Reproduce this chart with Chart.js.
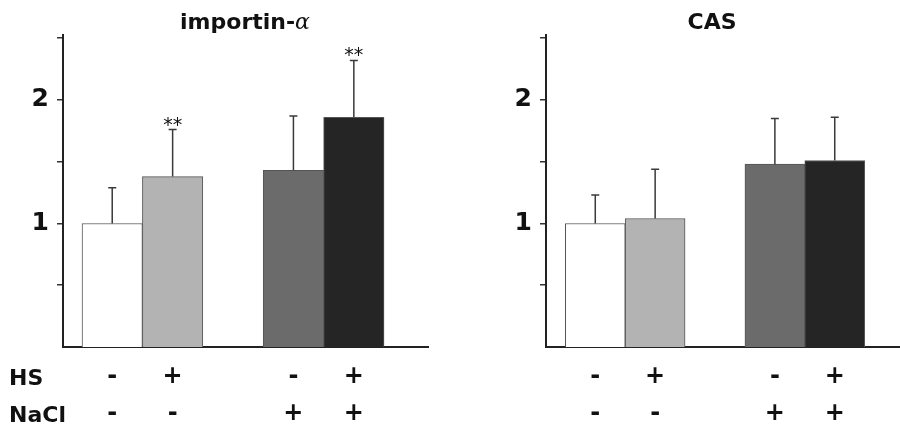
<!DOCTYPE html>
<html><head><meta charset="utf-8">
<script src="https://cdn.jsdelivr.net/npm/chart.js@4.4.0/dist/chart.umd.min.js"></script>
<style>
html,body{margin:0;padding:0;background:#fff;}
#wrap{position:relative;width:900px;height:428px;overflow:hidden;}
.panel{position:absolute;top:0;width:450px;height:428px;}
.title{position:absolute;font:bold 22px "DejaVu Sans";color:#111;white-space:nowrap;transform:translateX(-50%);line-height:22px;}
.rowlab{position:absolute;left:9px;font:bold 22px "DejaVu Sans";color:#111;line-height:37px;}
</style></head>
<body><div id="wrap">
<div class="panel" style="left:0"><canvas id="c1" width="450" height="428"></canvas></div>
<div class="panel" style="left:450px"><canvas id="c2" width="450" height="428"></canvas></div>
<div class="title" style="left:245px;top:11px">importin-<span style="font-family:'DejaVu Serif';font-style:italic;font-weight:normal">α</span></div>
<div class="title" style="left:712px;top:11px">CAS</div>
<div class="rowlab" style="top:359px">HS</div>
<div class="rowlab" style="top:396px">NaCl</div>
</div>
<script>
// ---- data ----
const categories = ['HS- NaCl-', 'HS+ NaCl-', 'HS- NaCl+', 'HS+ NaCl+'];
const slots = [1, 2, 4, 5];
const hsSigns = ['-', '+', '-', '+'];
const naclSigns = ['-', '-', '+', '+'];
const importinValues = [1.00, 1.38, 1.43, 1.86];
const importinErrors = [0.29, 0.38, 0.44, 0.46];
const importinSig = ['', '**', '', '**'];
const casValues = [1.00, 1.04, 1.48, 1.51];
const casErrors = [0.23, 0.40, 0.37, 0.35];
const casSig = ['', '', '', ''];
const yTickValues = [0.5, 1, 1.5, 2, 2.5];
const yTickLabels = { 1: '1', 2: '2' };
const barColors = ['#ffffff', '#b3b3b3', '#6b6b6b', '#252525'];

function errorPlugin(values, errors, sig) {
  return {
    id: 'errorBars',
    afterDatasetsDraw(chart) {
      const { ctx } = chart;
      const y = chart.scales.y;
      const meta = chart.getDatasetMeta(0);
      ctx.save();
      meta.data.forEach((bar, i) => {
        const top = y.getPixelForValue(values[i] + errors[i]);
        const base = y.getPixelForValue(values[i]);
        ctx.strokeStyle = '#3a3a3a';
        ctx.lineWidth = 1.5;
        ctx.beginPath();
        ctx.moveTo(bar.x, base);
        ctx.lineTo(bar.x, top);
        ctx.moveTo(bar.x - 4, top);
        ctx.lineTo(bar.x + 4, top);
        ctx.stroke();
        if (sig[i]) {
          ctx.fillStyle = '#111';
          ctx.font = '19px "DejaVu Sans"';
          ctx.textAlign = 'center';
          ctx.textBaseline = 'alphabetic';
          ctx.fillText(sig[i], bar.x, top + 1);
        }
      });
      ctx.restore();
    }
  };
}

function makeChart(id, values, errors, sig, xMin, xMax, yAxisWidth, padRight) {
  return new Chart(document.getElementById(id), {
    type: 'bar',
    data: {
      labels: categories,
      datasets: [{
        data: slots.map((s, i) => ({ x: s, y: values[i] })),
        backgroundColor: barColors,
        borderColor: '#555',
        borderWidth: 1,
        barPercentage: 1,
        categoryPercentage: 1
      }]
    },
    options: {
      responsive: false,
      animation: false,
      events: [],
      layout: { padding: { top: 34.5, right: padRight, left: 0, bottom: 0 } },
      plugins: { legend: { display: false }, tooltip: { enabled: false }, title: { display: false } },
      scales: {
        x: {
          type: 'linear',
          min: xMin, max: xMax,
          offset: false,
          grid: { display: false, drawTicks: false },
          border: { display: true, color: '#222', width: 2 },
          afterBuildTicks: (s) => { s.ticks = slots.map(v => ({ value: v })); },
          afterFit: (s) => { s.height = 81; },
          ticks: {
            autoSkip: false, maxRotation: 0, minRotation: 0,
            padding: 11,
            color: '#111',
            font: { family: 'DejaVu Sans', weight: 'bold', size: 24, lineHeight: '37px' },
            callback: (v) => { const i = slots.indexOf(v); return i < 0 ? '' : [hsSigns[i], naclSigns[i]]; }
          }
        },
        y: {
          min: 0, max: 2.53,
          grid: { drawOnChartArea: false, drawTicks: true, tickLength: 6, color: '#333', lineWidth: 1.5 },
          border: { display: true, color: '#222', width: 2 },
          afterBuildTicks: (s) => { s.ticks = yTickValues.map(v => ({ value: v })); },
          afterFit: (s) => { s.width = yAxisWidth; },
          ticks: {
            padding: 8,
            color: '#111',
            font: { family: 'DejaVu Sans', weight: 'bold', size: 25 },
            callback: (v) => yTickLabels[v] || ''
          }
        }
      }
    },
    plugins: [errorPlugin(values, errors, sig)]
  });
}

makeChart('c1', importinValues, importinErrors, importinSig, 0.185, 6.228, 63, 22);
makeChart('c2', casValues, casErrors, casSig, 0.177, 6.09, 96, 0);
</script>
</body></html>
